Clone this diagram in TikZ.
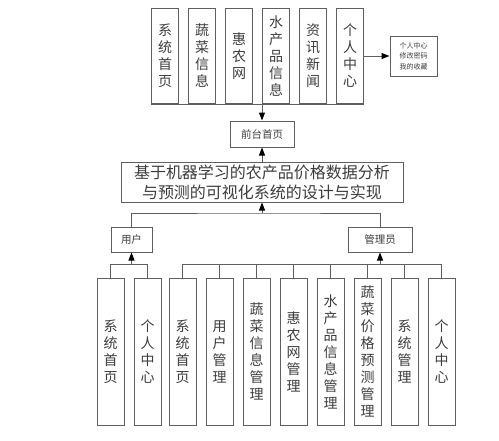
\documentclass[tikz,border=0pt]{standalone}
\usepackage{fontspec}
\newfontfamily\cjk{Noto Sans CJK SC}
\usetikzlibrary{arrows.meta,positioning}
\definecolor{fLine}{RGB}{95,95,95}
\definecolor{fText}{RGB}{60,60,60}

\begin{document}
\begin{tikzpicture}[x=1pt,y=1pt,
	menu/.style={
		draw=fLine, line width=1pt, inner sep=0pt, align=center, text=fText,
		minimum width=27pt, font=\cjk\fontsize{14}{17}\selectfont
	},
	tbox/.style={
		draw=fLine, line width=1pt, inner sep=0pt, align=center, text=fText,
		font=\cjk\fontsize{10.5}{12}\selectfont
	},
	arr/.style={-{Triangle[length=8pt,width=6pt,color=black]}},
	link/.style={draw=fLine, line width=1pt}
	]
	\useasboundingbox (0,0) rectangle (499,-440);

	\node[menu,minimum height=95pt] (t1) at (165,-56) {系\\统\\首\\页};
	\node[menu,minimum height=95pt,right=9pt of t1] (t2) {蔬\\菜\\信\\息};
	\node[menu,minimum height=95pt,right=9pt of t2] (t3) {惠\\农\\网};
	\node[menu,minimum height=95pt,right=9pt of t3] (t4) {水\\产\\品\\信\\息};
	\node[menu,minimum height=95pt,right=9pt of t4] (t5) {资\\讯\\新\\闻};
	\node[menu,minimum height=95pt,right=9pt of t5] (t6) {个\\人\\中\\心};
	\node[tbox,minimum width=47pt,minimum height=40pt,
		font=\cjk\fontsize{7}{10.5}\selectfont] (grzx) at (413.5,-56) {个人中心\\修改密码\\我的收藏};

	\node[tbox,minimum width=64pt,minimum height=26pt] (qt) at (262,-134) {前台首页};
	\node[tbox,minimum width=282pt,minimum height=40pt,
		font=\cjk\fontsize{16}{20}\selectfont] (sys) at (262,-182)
		{基于机器学习的农产品价格数据分析\\与预测的可视化系统的设计与实现};
	\node[tbox,minimum width=41pt,minimum height=25pt] (yh) at (131.5,-239.5) {用户};
	\node[tbox,minimum width=64pt,minimum height=25pt] (gly) at (380,-239.5) {管理员};

	\node[menu,minimum height=147pt] (u1) at (110.5,-351.5) {系\\统\\首\\页};
	\node[menu,minimum height=147pt,right=9pt of u1] (u2) {个\\人\\中\\心};

	\node[menu,minimum height=147pt] (a1) at (182.5,-351.5) {系\\统\\首\\页};
	\node[menu,minimum height=147pt,right=9pt of a1] (a2) {用\\户\\管\\理};
	\node[menu,minimum height=147pt,right=9pt of a2] (a3) {蔬\\菜\\信\\息\\管\\理};
	\node[menu,minimum height=147pt,right=9pt of a3] (a4) {惠\\农\\网\\管\\理};
	\node[menu,minimum height=147pt,right=9pt of a4] (a5) {水\\产\\品\\信\\息\\管\\理};
	\node[menu,minimum height=147pt,right=9pt of a5] (a6) {蔬\\菜\\价\\格\\预\\测\\管\\理};
	\node[menu,minimum height=147pt,right=9pt of a6] (a7) {系\\统\\管\\理};
	\node[menu,minimum height=147pt,right=9pt of a7] (a8) {个\\人\\中\\心};

	\draw[link] (t1.south west) -- (t6.south east);
	\draw[link,arr] (t6.east) -- (grzx.west);
	\draw[link,arr] (t1.south -| qt) -- (qt.north);
	\draw[link,arr] (sys.north) -- (qt.south);

	\coordinate (j) at (262,-213);
	\draw[link] (yh.north) |- (j) -| (gly.north);
	\draw[link,arr] (j) -- (sys.south);

	\path (yh.south) ++(0,-12) coordinate (uj);
	\draw[link] (u1.north) |- (uj) -| (u2.north);
	\draw[link,arr] (uj) -- (yh.south);

	\path (gly.south) ++(0,-12) coordinate (aj);
	\draw[link] (a1.north) |- (aj) -| (a8.north);
	\foreach \i in {2,...,7}
	\draw[link] (a\i.north) -- (a\i.north |- aj);
	\draw[link,arr] (aj) -- (gly.south);
\end{tikzpicture}
\end{document}
